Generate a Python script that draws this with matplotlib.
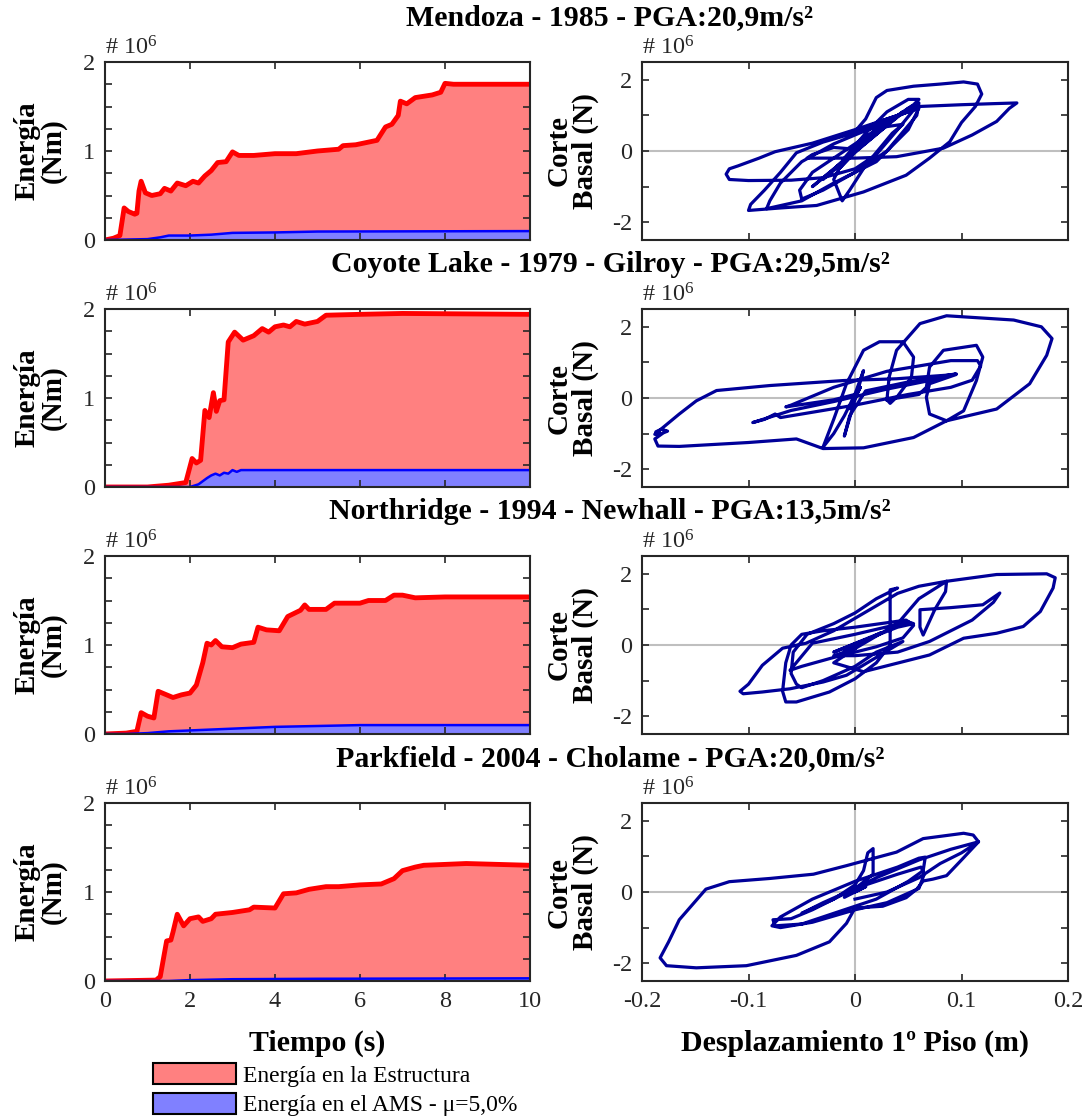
import numpy as np
import matplotlib
matplotlib.use("Agg")
import matplotlib.pyplot as plt
from matplotlib.ticker import MultipleLocator
from matplotlib.patches import Patch

plt.rcParams['font.family'] = ['Liberation Serif', 'DejaVu Serif']
plt.rcParams['mathtext.default'] = 'regular'

titulos = ["Mendoza - 1985 - PGA:20,9m/s²",
           "Coyote Lake - 1979 - Gilroy - PGA:29,5m/s²",
           "Northridge - 1994 - Newhall - PGA:13,5m/s²",
           "Parkfield - 2004 - Cholame - PGA:20,0m/s²"]

# energia en la estructura (x1e6 Nm)
t_est_men = [0, 0.2, 0.35, 0.45, 0.55, 0.7, 0.75, 0.8, 0.85, 0.95, 1.1, 1.3, 1.4, 1.55, 1.7, 1.9, 2.07, 2.2, 2.35, 2.5,
             2.65, 2.85, 3.0, 3.15, 3.5, 4.0, 4.5, 5.0, 5.5, 5.6, 5.9, 6.1, 6.4, 6.6, 6.75, 6.9, 6.95, 7.1, 7.3, 7.7,
             7.9, 8.0, 8.2, 10]
e_est_men = [0, 0.02, 0.05, 0.36, 0.32, 0.29, 0.3, 0.55, 0.66, 0.53, 0.5, 0.52, 0.58, 0.55, 0.64, 0.61, 0.66, 0.64, 0.72, 0.78,
             0.87, 0.88, 0.99, 0.95, 0.95, 0.97, 0.97, 1.0, 1.02, 1.06, 1.07, 1.09, 1.12, 1.27, 1.3, 1.4, 1.56, 1.53, 1.6, 1.63,
             1.66, 1.76, 1.75, 1.75]
t_ams_men = [0, 0.5, 1.0, 1.3, 1.5, 2.0, 2.5, 3.0, 4.0, 5.0, 10]
e_ams_men = [0, 0.005, 0.01, 0.03, 0.05, 0.05, 0.06, 0.08, 0.085, 0.095, 0.1]

t_est_coy = [0, 1.0, 1.5, 1.9, 2.05, 2.15, 2.25, 2.35, 2.45, 2.55, 2.62, 2.7, 2.8, 2.9, 3.05, 3.25, 3.5, 3.7, 3.85, 4.0,
             4.2, 4.35, 4.5, 4.7, 5.0, 5.2, 6.0, 7.0, 10]
e_est_coy = [0, 0, 0.02, 0.05, 0.32, 0.27, 0.3, 0.86, 0.78, 1.06, 0.85, 0.97, 0.98, 1.63, 1.74, 1.65, 1.7, 1.78, 1.74, 1.8,
             1.82, 1.8, 1.86, 1.83, 1.86, 1.93, 1.94, 1.95, 1.94]
t_ams_coy = [0, 2.0, 2.2, 2.4, 2.5, 2.6, 2.7, 2.8, 2.9, 3.0, 3.1, 3.2, 4.0, 10]
e_ams_coy = [0, 0, 0.03, 0.1, 0.13, 0.15, 0.13, 0.16, 0.15, 0.19, 0.17, 0.19, 0.19, 0.19]

t_est_nor = [0, 0.5, 0.75, 0.85, 1.0, 1.15, 1.25, 1.4, 1.6, 1.8, 2.0, 2.15, 2.3, 2.4, 2.5, 2.6, 2.75, 3.0, 3.2, 3.5,
             3.6, 3.8, 4.1, 4.3, 4.6, 4.7, 4.8, 5.2, 5.4, 6.0, 6.2, 6.6, 6.8, 7.0, 7.3, 8.0, 10]
e_est_nor = [0, 0.01, 0.03, 0.24, 0.2, 0.18, 0.48, 0.45, 0.41, 0.44, 0.46, 0.55, 0.8, 1.02, 1.0, 1.05, 0.98, 0.97, 1.01, 1.03,
             1.2, 1.17, 1.16, 1.32, 1.39, 1.45, 1.4, 1.4, 1.47, 1.47, 1.5, 1.5, 1.56, 1.56, 1.53, 1.54, 1.54]
t_ams_nor = [0, 0.5, 1.0, 1.5, 2.0, 3.0, 4.0, 5.0, 6.0, 10]
e_ams_nor = [0, 0, 0.01, 0.03, 0.04, 0.06, 0.08, 0.09, 0.1, 0.1]

t_est_par = [0, 1.2, 1.3, 1.45, 1.55, 1.6, 1.7, 1.85, 2.0, 2.2, 2.3, 2.5, 2.6, 3.0, 3.4, 3.5, 4.0, 4.1, 4.2, 4.5,
             4.8, 5.2, 5.5, 6.0, 6.5, 6.8, 7.0, 7.3, 7.5, 8.0, 8.5, 10]
e_est_par = [0, 0.01, 0.05, 0.45, 0.46, 0.55, 0.75, 0.62, 0.7, 0.72, 0.67, 0.7, 0.75, 0.77, 0.8, 0.83, 0.82, 0.9, 0.98, 0.99,
             1.03, 1.06, 1.06, 1.08, 1.09, 1.15, 1.24, 1.28, 1.3, 1.31, 1.32, 1.3]
t_ams_par = [0, 1.5, 2.0, 3.0, 5.0, 10]
e_ams_par = [0, 0, 0.01, 0.02, 0.025, 0.03]

# ciclos de histeresis: (desplazamiento m, corte x1e6 N)
hist_men = [(0, 0), (0.01, 0.3), (-0.01, -0.3), (0.02, 0.6), (-0.015, -0.5), (0.03, 0.9), (-0.03, -0.8), (0.045, 1.1),
            (-0.04, -1.0), (0.05, 1.2), (0.06, 1.35), (0.058, 1.0), (0.03, 0.0), (0.0, -0.6), (-0.03, -1.1),
            (-0.05, -1.35), (-0.052, -1.1), (-0.04, -0.6), (-0.01, 0.0), (0.03, 0.8), (0.055, 1.3), (0.06, 1.45),
            (0.05, 1.45), (0.03, 1.1), (0.01, 0.5), (-0.01, -0.2), (-0.02, -0.8), (-0.012, -1.4), (-0.005, -1.1),
            (0.01, -0.4), (0.035, 0.5), (0.045, 0.75), (0.01, 0.6), (-0.03, 0.25), (-0.055, -0.05), (-0.07, -0.6),
            (-0.085, -1.1), (-0.098, -1.5), (-0.1, -1.67), (-0.07, -1.6), (-0.036, -1.53), (0.008, -1.15),
            (0.048, -0.68), (0.07, -0.2), (0.089, 0.26), (0.1, 0.8), (0.113, 1.25), (0.119, 1.6), (0.115, 1.88),
            (0.102, 1.94), (0.08, 1.88), (0.055, 1.82), (0.03, 1.7), (0.02, 1.5), (0.01, 0.9), (0.0, 0.55),
            (0.03, 0.9), (0.055, 1.15), (0.04, 0.6), (0.02, -0.1), (0.0, -0.5), (-0.03, -0.75), (-0.06, -0.82),
            (-0.1, -0.83), (-0.118, -0.8), (-0.121, -0.65), (-0.118, -0.5), (-0.11, -0.42), (-0.09, -0.2),
            (-0.075, -0.02), (-0.04, 0.22), (0.0, 0.6), (0.04, 1.0), (0.06, 1.2), (0.05, 0.6), (0.02, -0.3),
            (-0.02, -0.9), (-0.05, -1.4), (-0.083, -1.62), (-0.08, -1.4), (-0.07, -0.9), (-0.05, -0.3),
            (-0.02, 0.2), (0.02, 0.7), (0.06, 1.25), (0.1, 1.3), (0.13, 1.33), (0.152, 1.35), (0.145, 1.2),
            (0.133, 0.83), (0.11, 0.45), (0.083, 0.08), (0.039, -0.16), (0.0, -0.2), (-0.045, -0.2),
            (-0.04, -0.1), (-0.02, 0.1), (0.0, 0.05)]

hist_coy = [(0, 0), (0.005, 0.3), (-0.005, -0.3), (0.008, 0.77), (-0.01, -1.07), (-0.005, -0.5), (0.01, 0.2),
            (0.05, 0.45), (0.095, 0.68), (0.08, 0.55), (0.03, 0.25), (-0.02, -0.1), (-0.06, -0.35), (-0.096, -0.69),
            (-0.085, -0.6), (-0.075, -0.45), (-0.07, -0.55), (-0.04, -0.4), (0.0, -0.2), (0.05, 0.1), (0.09, 0.3),
            (0.11, 0.5), (0.118, 0.9), (0.115, 1.05), (0.09, 1.05), (0.03, 0.75), (-0.02, 0.3), (-0.06, -0.2),
            (-0.065, -0.25), (-0.02, -0.05), (0.0, 0.1), (-0.01, -0.5), (-0.02, -1.0), (-0.03, -1.38), (-0.02, -0.6),
            (-0.008, 0.4), (0.008, 1.34), (0.023, 1.58), (0.045, 1.58), (0.055, 1.15), (0.053, 0.58), (0.04, 0.05),
            (0.033, -0.15), (0.03, -0.05), (0.032, 0.58), (0.039, 1.34), (0.061, 2.09), (0.086, 2.31),
            (0.149, 2.19), (0.175, 2.0), (0.185, 1.67), (0.18, 1.2), (0.164, 0.4), (0.133, -0.31), (0.086, -0.64),
            (0.055, -1.11), (0.008, -1.4), (-0.03, -1.42), (-0.055, -1.15), (-0.1, -1.25), (-0.165, -1.36),
            (-0.185, -1.35), (-0.188, -1.15), (-0.18, -0.98), (-0.176, -0.93), (-0.182, -0.88), (-0.187, -0.95),
            (-0.183, -1.0), (-0.188, -1.02), (-0.165, -0.45), (-0.149, -0.08), (-0.13, 0.21), (-0.08, 0.35),
            (-0.011, 0.49), (0.039, 0.54), (0.095, 0.66), (0.07, 0.4), (0.067, 0.02), (0.07, -0.45), (0.086, -0.64),
            (0.102, -0.36), (0.114, 0.49), (0.12, 1.15), (0.114, 1.48), (0.083, 1.34), (0.07, 0.87),
            (0.067, 0.3), (0.06, 0.1), (0.03, -0.05)]

hist_nor = [(0, 0), (0.01, 0.15), (-0.01, -0.15), (0.025, 0.35), (-0.02, -0.2), (0.04, 0.5), (0.055, 0.6),
            (0.05, 0.65), (0.0, 0.3), (-0.04, 0.05), (-0.061, -0.71), (-0.05, -0.6), (-0.02, -0.35), (0.02, -0.05),
            (0.045, 0.2), (0.055, 0.55), (0.048, 0.7), (0.0, 0.5), (-0.03, 0.4), (-0.05, 0.3), (-0.06, 0.0),
            (-0.065, -0.5), (-0.068, -1.3), (-0.065, -1.6), (-0.055, -1.6), (-0.024, -1.32), (0.0, -0.95),
            (0.02, -0.5), (0.033, 0.0), (0.033, 0.7), (0.033, 1.55), (0.04, 1.6), (0.02, 1.3), (0.0, 0.9),
            (-0.02, 0.6), (-0.045, 0.3), (-0.058, -0.2), (-0.06, -0.8), (-0.055, -1.1), (-0.05, -1.2),
            (-0.03, -1.0), (0.0, -0.6), (0.02, -0.2), (0.045, 0.1), (-0.008, -0.85), (-0.03, -1.04),
            (-0.061, -1.23), (-0.087, -1.32), (-0.105, -1.37), (-0.108, -1.3), (-0.1, -1.1), (-0.087, -0.57),
            (-0.068, -0.09), (-0.046, 0.05), (-0.02, 0.4), (0.0, 0.75), (0.02, 1.1), (0.04, 1.45), (0.06, 1.65),
            (0.086, 1.79), (0.085, 1.5), (0.075, 1.0), (0.064, 0.28), (0.061, 0.5), (0.061, 0.99), (0.09, 1.05),
            (0.12, 1.13), (0.136, 1.46), (0.13, 1.2), (0.11, 0.7), (0.09, 0.4), (0.07, 0.1), (0.04, -0.2),
            (0.0, -0.3), (-0.02, -0.3), (0.0, -0.1), (0.04, 0.6), (0.06, 1.3), (0.086, 1.79), (0.133, 1.98),
            (0.18, 2.0), (0.188, 1.89), (0.186, 1.6), (0.174, 0.94), (0.158, 0.52), (0.133, 0.33), (0.102, 0.19),
            (0.07, -0.28), (0.045, -0.47), (0.008, -0.75), (-0.02, -0.5), (0.0, -0.1)]

hist_par = [(0, 0), (0.01, 0.15), (-0.01, -0.15), (0.017, 0.5), (0.017, 1.22), (0.012, 1.1), (0.008, 0.6),
            (0.0, 0.2), (-0.02, -0.2), (-0.04, -0.5), (-0.06, -0.75), (-0.077, -0.78), (-0.075, -0.95),
            (-0.05, -0.9), (-0.02, -0.6), (0.02, -0.2), (0.05, 0.3), (0.064, 0.6), (0.066, 0.98), (0.06, 0.95),
            (0.04, 0.7), (0.0, 0.3), (-0.04, -0.2), (-0.07, -0.7), (-0.078, -0.95), (-0.07, -1.0), (-0.04, -0.85),
            (0.0, -0.5), (0.03, -0.3), (0.06, 0.1), (0.065, 0.5), (0.062, 0.7), (0.04, 0.5), (0.0, 0.1),
            (-0.03, -0.3), (-0.05, -0.6), (-0.02, -0.2), (0.02, 0.4), (0.06, 0.9), (0.09, 1.2), (0.116, 1.41),
            (0.1, 0.9), (0.086, 0.46), (0.073, 0.36), (0.064, 0.31), (0.058, 0.08), (0.048, -0.16), (0.026, -0.4),
            (0.0, -0.45), (-0.008, -0.88), (-0.024, -1.4), (-0.055, -1.78), (-0.102, -2.07), (-0.149, -2.13),
            (-0.177, -2.07), (-0.183, -1.85), (-0.175, -1.4), (-0.165, -0.78), (-0.14, 0.08), (-0.118, 0.29),
            (-0.08, 0.38), (-0.039, 0.5), (-0.008, 0.74), (0.039, 1.12), (0.064, 1.5), (0.102, 1.65),
            (0.111, 1.6), (0.116, 1.41), (0.1, 1.1), (0.08, 0.8), (0.06, 0.4), (0.03, 0.0), (0.0, -0.2)]

x_ticks_desp = [-0.2, -0.1, 0, 0.1, 0.2]
x_labels_desp = ['-0.2', '-0.1', '0', '0.1', '0.2']

energias = [(t_est_men, e_est_men, t_ams_men, e_ams_men),
            (t_est_coy, e_est_coy, t_ams_coy, e_ams_coy),
            (t_est_nor, e_est_nor, t_ams_nor, e_ams_nor),
            (t_est_par, e_est_par, t_ams_par, e_ams_par)]
histeresis = [hist_men, hist_coy, hist_nor, hist_par]

W, H = 1087, 1119
fig = plt.figure(figsize=(W / 100, H / 100), dpi=100)

gris = '#262626'
rojo_claro = '#FF8080'
azul_claro = '#8080FF'
azul_osc = '#000099'

tops = [62, 309, 556, 803]
alto = 178

def estilo(ax):
    for s in ax.spines.values():
        s.set_color(gris)
        s.set_linewidth(1.5)
    ax.tick_params(which='both', direction='in', top=True, right=True, length=5,
                   width=1.2, color=gris, labelsize=17.5, labelcolor=gris, pad=7)

for i in range(4):
    b = 1 - (tops[i] + alto) / H
    axl = fig.add_axes([105 / W, b, 425 / W, alto / H])
    axr = fig.add_axes([642 / W, b, 426 / W, alto / H])

    t1, e1, t2, e2 = energias[i]
    axl.fill_between(t1, 0, e1, facecolor=rojo_claro, edgecolor='none')
    axl.plot(t1, e1, color='red', lw=3.5)
    axl.fill_between(t2, 0, e2, facecolor=azul_claro, edgecolor='none')
    axl.plot(t2, e2, color='blue', lw=1.8)
    axl.set_xlim(0, 10)
    axl.set_ylim(0, 2)
    axl.xaxis.set_major_locator(MultipleLocator(2))
    axl.yaxis.set_major_locator(MultipleLocator(1))
    axl.yaxis.set_minor_locator(MultipleLocator(0.25))
    estilo(axl)
    axl.set_ylabel('Energía\n(Nm)', fontsize=21, fontweight='bold', linespacing=0.95)
    axl.yaxis.set_label_coords(-0.09, 0.5)
    axl.text(0, 1.015, '# 10$^{6}$', transform=axl.transAxes, fontsize=17.5, color=gris, va='bottom')

    hx, hy = zip(*histeresis[i])
    axr.axhline(0, color='#BFBFBF', lw=1.5, zorder=1)
    axr.axvline(0, color='#BFBFBF', lw=1.5, zorder=1)
    axr.plot(hx, hy, color=azul_osc, lw=2.3, zorder=3, solid_joinstyle='round')
    axr.set_xlim(-0.2, 0.2)
    axr.set_ylim(-2.5, 2.5)
    axr.set_xticks(x_ticks_desp)
    axr.set_yticks([-2, 0, 2])
    axr.set_yticks([-1, 1], minor=True)
    axr.set_yticklabels(['-2', '0', '2'])
    estilo(axr)
    axr.set_ylabel('Corte\nBasal (N)', fontsize=21, fontweight='bold', linespacing=0.95)
    axr.yaxis.set_label_coords(-0.1, 0.5)
    axr.text(0, 1.015, '# 10$^{6}$', transform=axr.transAxes, fontsize=17.5, color=gris, va='bottom')

    if i < 3:
        axl.set_xticklabels([])
        axr.set_xticklabels([])
    else:
        axr.set_xticklabels(x_labels_desp)
        axl.set_xlabel('Tiempo (s)', fontsize=21.5, fontweight='bold', labelpad=13)
        axr.set_xlabel('Desplazamiento 1º Piso (m)', fontsize=21.5, fontweight='bold', labelpad=13)

    fig.text(610 / W, 1 - (tops[i] - 44) / H, titulos[i], ha='center', va='center',
             fontsize=21.5, fontweight='bold')

handles = [Patch(facecolor=rojo_claro, edgecolor='black', lw=1.5, label='Energía en la Estructura'),
           Patch(facecolor=azul_claro, edgecolor='black', lw=1.5, label='Energía en el AMS - μ=5,0%')]
fig.legend(handles=handles, loc='upper left', bbox_to_anchor=(153 / W, 1 - 1063 / H), frameon=False,
           fontsize=17, handlelength=3.5, handleheight=1.0, handletextpad=0.3, labelspacing=0.25,
           borderpad=0, borderaxespad=0)

fig.savefig('out.png', dpi=100)
